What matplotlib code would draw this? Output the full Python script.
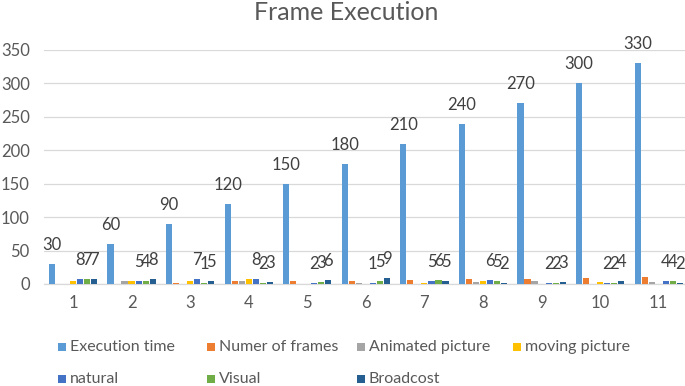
import matplotlib
matplotlib.use("Agg")
import matplotlib.pyplot as plt
from matplotlib.patches import Rectangle
import numpy as np

plt.rcParams['font.family'] = ['Lato', 'DejaVu Sans']

categories = ['1', '2', '3', '4', '5', '6', '7', '8', '9', '10', '11']
series_names = ['Execution time', 'Numer of frames', 'Animated picture', 'moving picture',
                'natural', 'Visual', 'Broadcost']
execution_time = [30, 60, 90, 120, 150, 180, 210, 240, 270, 300, 330]
numer_of_frames = [0, 0, 2, 4, 5, 5, 6, 7, 7, 9, 10]
animated_picture = [0, 4, 0, 5, 0, 2, 0, 3, 5, 0, 3]
moving_picture = [5, 5, 4, 8, 0, 0, 2, 4, 0, 3, 0]
natural = [8, 5, 7, 8, 2, 1, 5, 6, 2, 2, 4]
visual = [7, 4, 1, 2, 3, 5, 6, 5, 2, 2, 4]
broadcost = [7, 8, 5, 3, 6, 9, 5, 2, 3, 4, 2]
yticks = [0, 50, 100, 150, 200, 250, 300, 350]

series = [execution_time, numer_of_frames, animated_picture, moving_picture,
          natural, visual, broadcost]
colors = ['#5B9BD5', '#ED7D31', '#A5A5A5', '#FFC000', '#4472C4', '#70AD47', '#255E91']
labeled = [True, False, False, False, True, True, True]

W, H = 685, 386
fig = plt.figure(figsize=(W / 100, H / 100), dpi=100)
ax = fig.add_axes([43.7 / W, 1 - 284 / H, 644.3 / W, 234 / H])

x = np.arange(len(categories))
step = 0.12
bw = 0.105
for i, (vals, c, lab) in enumerate(zip(series, colors, labeled)):
    pos = x + (i - 3) * step
    ax.bar(pos, vals, width=bw, color=c, linewidth=0, zorder=3)
    if lab:
        for p, v in zip(pos, vals):
            ax.annotate(str(v), (p, v), xytext=(0, 19), textcoords='offset pixels',
                        ha='center', va='center', fontsize=12, color='#404040',
                        annotation_clip=False, zorder=5)

ax.set_xlim(-0.5, len(categories) - 0.5)
ax.set_ylim(0, 350)
ax.set_yticks(yticks)
ax.set_xticks(x)
ax.set_xticklabels(categories)
ax.yaxis.grid(True, color='#D9D9D9', linewidth=0.9, zorder=0)
ax.set_axisbelow(True)
for s in ['left', 'right', 'top']:
    ax.spines[s].set_visible(False)
ax.spines['bottom'].set_color('#D9D9D9')
ax.spines['bottom'].set_linewidth(0.9)
ax.tick_params(axis='both', length=0, labelsize=12, labelcolor='#595959')
ax.tick_params(axis='y', pad=10)
ax.tick_params(axis='x', pad=8)

fig.text(346 / W, 1 - 12 / H, 'Frame Execution', ha='center', va='center',
         fontsize=18, color='#595959')

# legend, laid out like the spreadsheet legend
leg_x = [62, 211, 361, 517, 62, 211, 361]
leg_y = [347, 347, 347, 347, 379, 379, 379]
for name, c, lx, ly in zip(series_names, colors, leg_x, leg_y):
    fig.add_artist(Rectangle(((lx - 4) / W, 1 - (ly + 4) / H), 8 / W, 8 / H,
                             transform=fig.transFigure, color=c, linewidth=0))
    fig.text((lx + 8) / W, 1 - ly / H, name, ha='left', va='center',
             fontsize=11.5, color='#595959')

fig.savefig('out.png', dpi=100)
